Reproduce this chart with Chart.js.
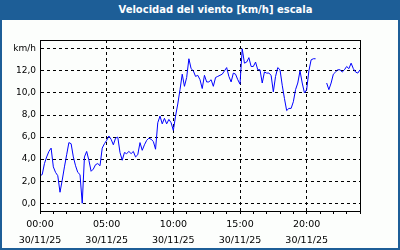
<!DOCTYPE html>
<html>
<head>
  <title>Velocidad del viento</title>
  <script src="https://cdn.jsdelivr.net/npm/chart.js"></script>
  <style>
    body {
      margin: 0;
      font-family: 'DejaVu Sans', sans-serif;
    }
    #frame {
      position: relative;
      width: 400px;
      height: 250px;
      background: #1d5e97;
      overflow: hidden;
    }
    #title {
      position: absolute;
      left: 0;
      top: 0;
      width: 431px;
      height: 20px;
      line-height: 20px;
      text-align: center;
      color: #fff;
      font-weight: bold;
      font-size: 10px;
      white-space: nowrap;
    }
    #windChart {
      position: absolute;
      left: 2px;
      top: 20px;
      background: #fcfefc;
    }
  </style>
</head>
<body>
  <div id="frame">
    <div id="title">Velocidad del viento [km/h] escala</div>
    <canvas id="windChart" width="396" height="228"></canvas>
  </div>

  <script>
    // readings every 10 minutes starting 00:00, null = no data
    const stepMinutes = 10;
    const speed = [
      2.5, 2.6, 3.6, 4.2, 4.7, 5.0, 3.3, 2.8, 2.5, 1.0,
      2.1, 3.3, 4.4, 5.5, 5.4, 4.2, 3.4, 2.8, 2.6, 0.0,
      4.2, 4.7, 3.9, 2.9, 3.1, 3.5, 3.6, 3.4, 5.0, 5.4,
      5.7, 6.1, 5.8, 5.3, 5.9, 6.0, 4.6, 3.9, 4.6, 4.5,
      4.7, 4.5, 4.7, 4.2, 4.4, 5.5, 4.8, 5.3, 5.7, 5.9,
      5.8, 5.6, 4.9, 7.3, 7.9, 7.2, 7.7, 7.2, 7.6, 7.3,
      6.6, 7.9, 9.0, 10.3, 11.7, 10.6, 11.4, 13.1, 12.2, 12.0,
      11.5, 11.6, 11.2, 10.4, 11.6, 11.0, 11.0, 11.2, 10.6, 11.4,
      11.5, 11.6, 11.7, 12.0, 12.3, 11.5, 11.0, 11.8, 11.7, 11.2,
      10.8, 14.0, 12.7, 12.8, 13.2, 12.4, 12.4, 12.8, 12.1, 12.1,
      10.9, 11.9, 11.8, 11.8, 11.6, 10.1, 11.5, 12.3, 12.1, 10.7,
      9.5, 8.4, 8.6, 8.6, 9.2, 10.3, 10.9, 12.0, 10.9, 10.0,
      10.3, 12.0, 13.0, 13.1, 13.1, null, null, null, null, 10.9,
      10.3, 10.9, 11.7, 11.9, 12.1, 12.1, 11.9, 12.1, 12.4, 12.2,
      12.7, 12.2, 11.9, 11.8, 12.1
    ];

    const timeLabels = ['00:00', '05:00', '10:00', '15:00', '20:00'];
    const dateLabel = '30/11/25';
    const yTicks = [0, 2, 4, 6, 8, 10, 12, 14];
    const unitLabel = 'km/h';

    const points = speed.map((v, i) => ({ x: i * stepMinutes / 60, y: v }));

    // solid box around the plot area
    const boxPlugin = {
      id: 'plotBox',
      afterDraw: (chart) => {
        const a = chart.chartArea;
        const ctx = chart.ctx;
        ctx.save();
        ctx.strokeStyle = '#000';
        ctx.lineWidth = 1;
        ctx.strokeRect(Math.round(a.left) + 0.5, Math.round(a.top) + 0.5,
          Math.round(a.right - a.left), Math.round(a.bottom - a.top));
        ctx.restore();
      }
    };

    const ctx = document.getElementById('windChart').getContext('2d');
    new Chart(ctx, {
      type: 'line',
      data: {
        datasets: [{
          data: points,
          borderColor: '#0000ff',
          borderWidth: 1,
          pointRadius: 0,
          tension: 0,
          spanGaps: false
        }]
      },
      options: {
        responsive: false,
        animation: false,
        layout: { padding: { top: 20, right: 38, left: 0, bottom: 0 } },
        plugins: {
          legend: { display: false },
          tooltip: { enabled: false }
        },
        scales: {
          x: {
            type: 'linear',
            min: 0,
            max: 24,
            afterBuildTicks: (scale) => {
              const t = [];
              for (let h = 0; h <= 24; h++) t.push({ value: h });
              scale.ticks = t;
            },
            afterFit: (scale) => { scale.height = 37; },
            grid: {
              color: (c) => (c.tick && c.tick.value % 5 === 0) ? '#000' : 'rgba(0,0,0,0)',
              tickColor: '#000',
              tickLength: 3,
              lineWidth: 1
            },
            border: { display: true, color: '#000', dash: [3, 3] },
            ticks: {
              autoSkip: false,
              maxRotation: 0,
              padding: 3,
              color: '#000',
              font: { family: 'DejaVu Sans', size: 9.5, lineHeight: '16px' },
              callback: (value) => (value % 5 === 0 && value < 24)
                ? [timeLabels[value / 5], dateLabel] : ''
            }
          },
          y: {
            min: -0.7,
            max: 14.8,
            afterBuildTicks: (scale) => {
              scale.ticks = yTicks.map(v => ({ value: v }));
            },
            afterFit: (scale) => { scale.width = 38; },
            grid: {
              color: '#000',
              drawTicks: false,
              lineWidth: 1
            },
            border: { display: true, color: '#000', dash: [3, 3] },
            ticks: {
              padding: 4,
              color: '#000',
              font: { family: 'DejaVu Sans', size: 9 },
              callback: (value) => value === 14 ? unitLabel : value.toFixed(1).replace('.', ',')
            }
          }
        }
      },
      plugins: [boxPlugin]
    });
  </script>
</body>
</html>
